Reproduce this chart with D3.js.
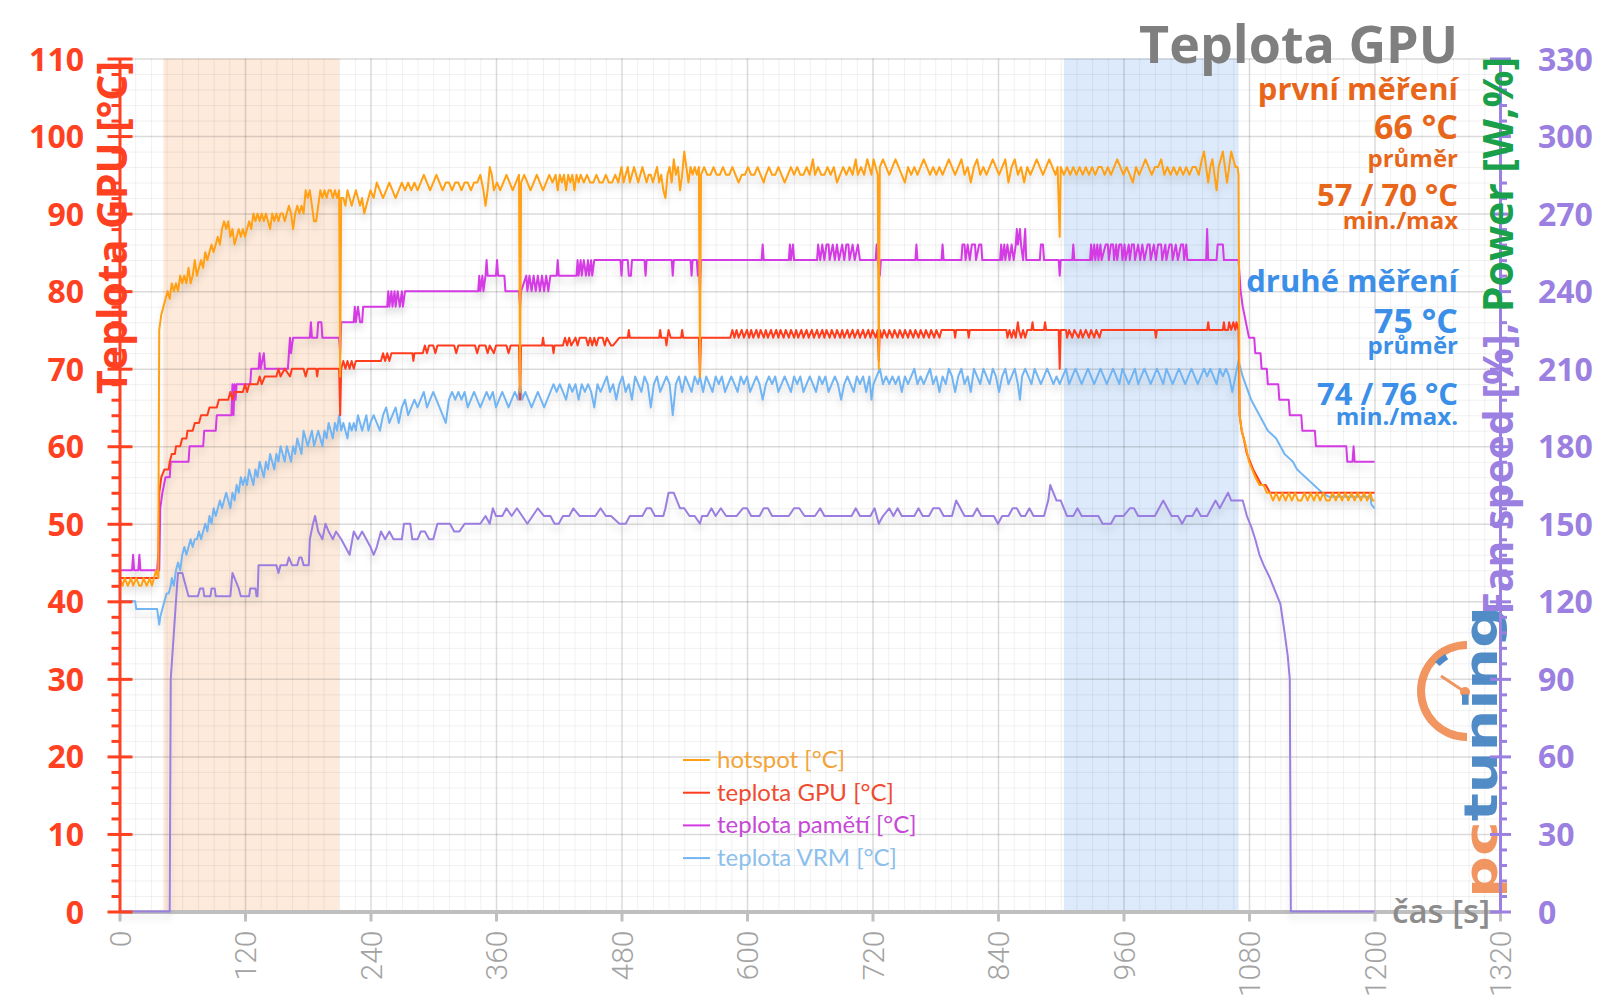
<!DOCTYPE html>
<html><head><meta charset="utf-8">
<script src="https://cdn.jsdelivr.net/npm/d3@7"></script>
<style>
html,body{margin:0;padding:0;background:#fff;}
svg{display:block;}
text{font-family:"Open Sans","DejaVu Sans",sans-serif;}
</style></head>
<body>
<svg id="chart" width="1600" height="1008"></svg>
<script>
// ---------- data (time [s], value) ----------
const xTicks = [0,120,240,360,480,600,720,840,960,1080,1200,1320];
const yLeftTicks = [0,10,20,30,40,50,60,70,80,90,100,110];
const yRightTicks = [0,30,60,90,120,150,180,210,240,270,300,330];
const bands = [[42,210],[903,1070]];

const hotspot = [
[0,43],[3,42],[5,43],[8,42],[11,43],[13,42],[16,43],[19,42],[21,42],[23,43],[26,42],[29,43],[31,42],[33,43],[35,44],[37,43],
[38,75],[40,77],[42,78],[44,79],[46,80],[48,79],[50,81],[52,80],[54,81],[56,80],[58,82],[60,81],[62,82],[64,81],[66,83],[68,81],[70,82],[72,84],[74,82],[76,83],[78,84],[80,83],[82,85],[84,84],[86,85],[88,86],[90,85],[92,86],[94,87],[96,86],[98,88],[100,89],[102,88],[104,89],[106,87],[108,88],[110,86],[112,87],[114,88],[116,87],[118,88],[120,87],[122,88],[124,89],[126,88],[128,90],[130,89],[132,90],[134,89],[136,90],[138,89],[140,90],[142,89],[144,88],[146,90],[148,89],[150,90],[152,89],[154,90],[156,90],[158,89],[160,90],[162,91],[164,90],[166,88],[168,90],[170,91],[172,90],[174,91],[176,90],[178,93],[180,92],[182,93],[184,91],[186,89],[188,89],[190,91],[192,93],[194,92],[196,93],[198,92],[200,93],[202,93],[204,92],[206,93],[208,92],[210,93],
[211,69],[212,92],[214,92],[216,91],[218,93],[220,92],[222,91],[224,92],[226,93],[228,92],[230,91],[232,92],[234,90],[236,91],[238,92],[240,93],[243,92],[246,94],[249,93],[252,92],[255,93],[258,94],[261,93],[264,92],[267,93],[270,94],[273,93],[276,94],[279,93],[282,94],[285,93],[288,94],[291,95],[294,94],[297,93],[300,94],[303,95],[306,94],[309,93],[312,94],[315,94],[318,93],[321,94],[324,94],[327,93],[330,94],[333,94],[336,93],[339,94],[342,94],[345,95],[348,93],[350,91],[352,93],[354,96],[356,95],[358,93],[361,94],[364,93],[367,94],[370,95],[373,94],[376,93],[379,94],[382,95],
[383,67],[384,94],[387,95],[390,94],[393,93],[396,94],[399,95],[402,94],[405,93],[408,94],[411,95],[414,94],[417,95],[419,93],[421,95],[423,94],[425,95],[427,93],[429,95],[431,94],[433,95],[435,93],[437,95],[439,94],[441,95],[444,94],[447,95],[450,94],[453,94],[456,95],[459,94],[462,94],[465,95],[468,94],[471,94],[474,95],[477,94],[480,96],[482,94],[484,95],[486,96],[488,94],[490,95],[492,96],[494,95],[496,94],[498,95],[500,96],[502,95],[504,94],[506,95],[508,95],[510,94],[512,95],[514,96],[516,94],[518,95],[520,93],[522,92],[524,95],[526,96],[528,94],[530,97],[532,95],[534,96],[536,93],[538,95],[540,98],[542,96],[544,94],[546,96],[548,95],[550,96],[552,95],[554,96],
[555,69],[556,95],[559,96],[562,95],[565,95],[568,96],[571,95],[574,95],[577,96],[580,95],[583,95],[586,96],[589,95],[592,94],[595,95],[598,95],[601,96],[604,95],[607,95],[610,96],[613,95],[616,94],[618,95],[621,96],[624,95],[627,95],[630,96],[633,95],[636,94],[639,95],[642,96],[645,95],[648,96],[651,95],[654,95],[657,96],[660,95],[663,97],[665,95],[668,96],[671,95],[674,95],[677,96],[680,95],[683,96],[686,94],[689,95],[692,96],[695,95],[698,96],[701,95],[704,97],[706,95],[709,96],[712,95],[715,97],[717,96],[719,95],[721,97],[723,96],[725,95],
[726,70],[727,96],[730,97],[733,96],[736,95],[739,96],[742,97],[745,96],[748,95],[751,94],[754,96],[757,95],[760,96],[763,95],[766,96],[769,97],[772,96],[775,95],[778,96],[781,95],[784,96],[787,95],[790,96],[793,97],[796,96],[799,95],[802,96],[805,97],[808,95],[811,96],[814,94],[817,96],[820,97],[823,95],[826,96],[829,95],[832,96],[835,97],[838,96],[841,95],[844,96],[847,97],[850,94],[853,96],[856,97],[859,95],[862,96],[865,94],[868,96],[871,95],[874,96],[877,97],[880,96],[883,95],[886,96],[889,97],[892,96],[895,95],[897,96],
[899,87],[900,96],[903,95],[906,96],[909,95],[912,96],[915,95],[918,96],[921,95],[924,96],[927,95],[930,96],[933,95],[936,96],[939,96],[942,95],[945,96],[948,95],[951,96],[954,97],[957,96],[960,95],[963,96],[966,95],[969,94],[972,96],[975,95],[978,96],[981,97],[984,96],[987,95],[990,96],[993,96],[996,97],[999,95],[1002,96],[1005,95],[1008,96],[1011,95],[1014,96],[1017,95],[1020,96],[1023,95],[1026,96],[1029,96],[1032,95],[1035,97],[1037,98],[1039,96],[1041,94],[1043,96],[1045,97],[1047,95],[1049,93],[1051,96],[1053,97],[1055,98],[1057,96],[1059,94],[1061,96],[1063,98],[1065,97],[1067,96],[1069,96],[1070,95],
[1071,64],[1073,62],[1075,61],[1077,60],[1080,58],[1083,57],[1086,56],[1090,55],[1094,55],[1097,54],[1100,54],[1103,53],[1106,54],[1109,53],[1112,54],[1115,53],[1118,54],[1121,53],[1124,54],[1127,53],[1130,53],[1133,54],[1136,53],[1139,54],[1142,53],[1145,54],[1148,53],[1151,54],[1154,53],[1157,53],[1160,54],[1163,53],[1166,54],[1169,53],[1172,54],[1175,53],[1178,54],[1181,53],[1184,54],[1187,53],[1190,54],[1193,53],[1196,54],[1198,53],[1200,53]
];

const gpuTemp = [
[0,43],[37,43],[38,54],[40,56],[43,57],[47,57],[48,58],[50,59],[53,59],[54,60],[58,60],[60,61],[64,61],[65,62],[70,62],[72,63],[76,63],[78,64],[84,64],[86,65],[93,65],[95,66],[104,66],[106,67],[108,66],[110,67],[118,67],[120,68],[122,67],[124,68],[132,68],[134,69],[136,68],[139,69],[150,69],[152,70],[154,69],[158,70],[163,69],[165,70],[176,70],[178,69],[180,70],[188,70],[189,69],[190,70],[210,70],
[211,64],[212,70],[214,71],[216,70],[218,71],[220,70],[222,71],[224,70],[226,71],[250,71],[252,72],[254,71],[256,72],[258,71],[260,72],[280,72],[281,71],[282,72],[290,72],[292,73],[294,72],[296,73],[300,73],[302,72],[304,73],[320,73],[322,72],[324,73],[340,73],[342,72],[344,73],[350,73],[352,72],[354,73],[358,72],[360,73],[370,73],[372,72],[374,73],[382,73],
[383,66],[384,73],[404,73],[405,74],[406,73],[414,73],[415,72],[416,73],[424,73],[426,74],[428,73],[430,74],[432,73],[436,74],[438,73],[440,74],[446,74],[448,73],[450,74],[452,73],[454,74],[456,73],[458,74],[462,74],[464,73],[466,74],[470,73],[472,73],[478,74],[486,74],[487,75],[488,74],[516,74],[517,75],[518,74],[522,74],[523,73],[525,75],[527,74],[537,74],[538,75],[539,74],[554,74],
[555,69],[556,74],[584,74],[586,75],[588,74],[590,75],[592,74],[595,75],[597,74],[600,75],[602,74],[604,75],[606,74],[609,75],[611,74],[613,75],[616,74],[618,75],[620,74],[623,75],[625,74],[628,75],[630,74],[632,75],[635,74],[637,75],[640,74],[642,75],[645,74],[647,75],[649,74],[652,75],[654,74],[657,75],[659,74],[662,75],[664,74],[667,75],[669,74],[672,75],[674,74],[676,75],[679,74],[681,75],[684,74],[686,75],[689,74],[691,75],[693,74],[696,75],[698,74],[701,75],[703,74],[706,75],[708,74],[711,75],[713,74],[716,75],[718,74],[720,75],[723,74],[725,75],
[726,71],[727,75],[729,74],[731,75],[734,74],[736,75],[739,74],[741,75],[744,74],[746,75],[749,74],[751,75],[754,74],[756,75],[759,74],[761,75],[764,74],[766,75],[769,74],[771,75],[774,74],[776,75],[779,74],[781,75],[784,74],[786,75],[798,75],[799,74],[800,75],[811,75],[812,74],[813,75],[848,75],[849,74],[851,75],[853,74],[855,75],[857,74],[859,76],[860,75],[862,74],[864,75],[866,74],[868,75],[872,75],[873,76],[874,75],[884,75],[885,76],[886,75],[898,75],
[899,70],[900,75],[905,75],[906,74],[908,75],[911,74],[913,75],[917,74],[919,75],[921,74],[924,75],[927,74],[929,75],[932,74],[934,75],[937,74],[939,75],[990,75],[991,74],[992,75],[1040,75],[1041,76],[1042,75],[1055,75],[1056,76],[1057,75],[1060,75],[1061,76],[1063,75],[1065,76],[1067,75],[1068,76],[1070,75],
[1071,64],[1073,62],[1075,61],[1078,59],[1081,58],[1084,57],[1088,56],[1092,55],[1096,55],[1100,54],[1200,54]
];

const memTemp = [
[0,44],[12,44],[13,46],[14,44],[18,44],[19,46],[20,44],[36,44],[37,46],[38,44],[39,52],[41,54],[44,56],[48,56],[49,58],[66,58],[67,60],[80,60],[81,62],[92,62],[93,64],[107,64],[108,68],[109,64],[110,68],[111,66],[112,68],[125,68],[126,70],[133,70],[134,72],[135,70],[138,72],[139,70],[161,70],[162,72],[163,74],[164,72],[166,74],[182,74],[183,76],[184,74],[189,74],[190,76],[193,76],[194,74],[210,74],
[211,72],[212,76],[224,76],[225,78],[226,76],[228,78],[230,76],[232,76],[233,78],[256,78],[257,80],[258,78],[260,80],[261,78],[263,80],[264,78],[266,80],[268,78],[270,80],[271,78],[273,80],[343,80],[344,82],[345,80],[347,82],[348,80],[350,82],[351,84],[352,82],[360,82],[361,84],[362,82],[368,82],[369,80],[382,80],
[383,78],[384,80],[389,82],[390,80],[392,82],[394,80],[396,82],[398,80],[400,82],[402,80],[404,82],[406,80],[408,82],[410,80],[412,82],[418,82],[419,84],[420,82],[437,82],[438,84],[439,82],[441,84],[442,82],[444,84],[446,82],[448,84],[449,82],[451,84],[452,82],[454,84],[479,84],[480,82],[481,84],[486,84],[487,82],[489,82],[490,84],[502,84],[503,82],[504,84],[528,84],[529,82],[530,84],[546,84],[547,82],[548,84],[552,84],[553,82],[554,84],
[555,80],[556,84],[614,84],[615,86],[616,84],[640,84],[641,86],[642,84],[644,86],[645,84],[667,84],[668,86],[670,84],[672,86],[674,84],[676,86],[678,86],[679,84],[682,86],[684,84],[686,86],[688,84],[691,86],[693,84],[695,86],[697,86],[698,84],[701,86],[703,84],[706,86],[708,84],[723,84],[724,86],[725,84],
[727,82],[728,84],[761,84],[762,86],[763,84],[786,84],[787,86],[788,84],[805,84],[806,86],[808,86],[809,84],[811,86],[813,84],[815,86],[818,86],[819,84],[822,86],[824,86],[825,84],[842,84],[843,86],[844,84],[846,86],[847,84],[849,86],[851,84],[853,86],[855,84],[857,86],[858,88],[859,86],[861,88],[862,86],[864,84],[866,88],[867,84],[880,84],[881,86],[883,86],[884,84],[898,84],
[899,82],[900,84],[911,84],[912,86],[913,84],[928,84],[929,86],[930,84],[932,86],[933,84],[935,86],[936,84],[938,86],[939,84],[943,86],[945,86],[946,84],[948,86],[950,86],[951,84],[953,86],[954,84],[956,86],[958,86],[959,84],[961,86],[962,84],[965,86],[966,84],[968,86],[970,86],[971,84],[974,86],[976,84],[978,86],[980,84],[983,86],[985,86],[986,84],[989,86],[991,84],[993,86],[996,86],[997,84],[1000,86],[1001,84],[1004,86],[1006,86],[1007,84],[1010,86],[1012,84],[1015,86],[1017,86],[1018,84],[1020,86],[1021,84],[1039,84],[1040,88],[1041,84],[1049,84],[1050,86],[1055,86],[1056,84],[1070,84],
[1071,82],[1072,80],[1074,78],[1077,76],[1080,74],[1085,74],[1086,72],[1091,72],[1092,70],[1097,70],[1098,68],[1108,68],[1109,66],[1118,66],[1119,64],[1130,64],[1131,62],[1143,62],[1144,60],[1173,60],[1174,58],[1179,58],[1180,60],[1181,58],[1200,58]
];

const vrmTemp = [
[0,40],[15,40],[16,39],[36,39],[37,38],[38,37],[39,38],[41,39],[43,40],[45,41],[47,41],[49,42],[50,43],[52,42],[54,44],[56,45],[58,44],[60,46],[62,47],[64,46],[66,47],[68,48],[70,47],[72,48],[74,48],[76,49],[78,48],[80,49],[82,50],[84,49],[86,51],[88,50],[90,52],[92,51],[94,52],[96,53],[98,52],[100,53],[102,54],[104,53],[106,52],[108,54],[110,53],[112,55],[114,54],[116,56],[118,55],[120,56],[122,55],[124,57],[126,56],[128,55],[130,57],[132,56],[134,58],[136,57],[138,56],[140,58],[142,57],[144,59],[146,58],[148,57],[150,59],[152,58],[154,60],[156,59],[158,58],[160,60],[162,59],[164,58],[166,60],[168,59],[170,61],[172,60],[174,59],[176,62],[178,61],[180,60],[182,61],[184,62],[186,60],[188,61],[190,62],[192,61],[194,60],[196,62],[198,61],[200,63],[202,62],[204,61],[206,63],[208,62],[210,64],[212,62],[214,63],[216,62],[218,61],[220,63],[222,62],[224,63],[226,62],[228,64],[230,63],[232,62],[234,63],[236,64],[238,62],[240,63],[243,64],[246,63],[249,62],[252,64],[255,65],[258,63],[261,64],[264,65],[267,63],[270,65],[273,66],[276,64],[279,65],[282,66],[285,65],[288,66],[291,67],[294,65],[297,66],[300,67],[303,66],[306,65],[309,64],[312,63],[315,66],[318,67],[321,66],[324,67],[327,66],[330,67],[333,65],[336,66],[339,67],[342,66],[345,65],[348,66],[351,67],[354,66],[357,67],[360,65],[363,66],[366,67],[369,66],[372,65],[375,66],[378,67],[381,66],[383,68],[385,66],[388,67],[391,66],[394,65],[397,66],[400,67],[403,66],[406,65],[409,66],[412,67],[415,68],[418,67],[421,68],[424,67],[427,66],[430,68],[433,67],[436,68],[439,66],[442,68],[445,67],[448,68],[451,67],[454,65],[457,68],[460,67],[463,68],[466,69],[469,67],[472,68],[475,66],[478,68],[481,69],[484,67],[487,68],[490,66],[493,69],[496,68],[499,67],[502,69],[505,68],[508,65],[511,68],[514,69],[517,67],[520,68],[523,69],[526,68],[529,64],[532,68],[535,69],[538,67],[541,69],[544,68],[547,67],[550,69],[553,68],[555,69],[558,67],[561,69],[564,68],[567,67],[570,69],[573,68],[576,69],[579,67],[582,68],[585,69],[588,68],[591,67],[594,69],[597,68],[600,69],[603,67],[606,68],[609,69],[612,68],[615,66],[618,68],[621,69],[624,68],[627,69],[630,67],[633,68],[636,69],[639,68],[642,67],[645,69],[648,68],[651,69],[654,67],[657,68],[660,69],[663,68],[666,67],[669,69],[672,68],[675,69],[678,67],[681,68],[684,69],[687,68],[690,66],[693,68],[696,69],[699,68],[702,67],[705,69],[708,68],[711,69],[714,67],[717,69],[719,66],[721,68],[724,69],[727,70],[730,68],[733,69],[736,68],[739,69],[742,68],[745,69],[748,67],[751,69],[754,68],[757,69],[760,70],[763,68],[766,69],[769,68],[772,69],[775,70],[778,68],[781,69],[784,67],[787,69],[790,68],[793,70],[796,69],[799,67],[802,69],[805,70],[808,68],[811,69],[814,67],[817,70],[820,69],[823,68],[826,70],[829,69],[832,68],[835,70],[838,69],[841,67],[844,69],[847,70],[850,68],[853,69],[856,70],[859,68],[861,66],[863,69],[866,70],[869,69],[872,68],[875,70],[878,69],[881,68],[884,69],[887,70],[890,69],[893,68],[896,69],[899,68],[902,69],[905,70],[908,68],[911,69],[914,70],[917,69],[920,68],[923,69],[926,70],[929,69],[932,68],[935,69],[938,70],[941,69],[944,68],[947,69],[950,70],[953,69],[956,68],[959,70],[962,69],[965,68],[968,69],[971,70],[974,68],[977,69],[980,70],[983,69],[986,68],[989,69],[992,70],[995,69],[998,68],[1001,70],[1004,69],[1007,68],[1010,69],[1013,70],[1016,69],[1019,68],[1022,69],[1025,70],[1028,69],[1031,68],[1034,69],[1037,70],[1040,69],[1043,70],[1046,69],[1049,68],[1052,70],[1055,69],[1058,70],[1061,69],[1064,67],[1067,69],[1070,71],
[1074,69],[1078,67.5],[1082,66],[1086,65],[1090,64],[1094,63],[1098,62],[1102,61.5],[1106,61],[1110,60],[1114,59],[1118,58.5],[1122,58],[1126,57],[1130,56.5],[1134,56],[1138,55.5],[1142,55],[1146,54.5],[1150,54],[1156,53.5],[1196,53.5],[1197,52.5],[1200,52]
];

// fan speed, read against the right axis
const fanSpeed = [
[0,0],[48,0],[49,90],[51,102],[53,114],[55,126],[56,131],[60,131],[62,128],[66,122],[75,122],[77,125],[80,125],[81,122],[87,122],[88,125],[91,125],[92,122],[106,122],[108,131],[111,128],[114,125],[116,122],[124,122],[125,125],[130,125],[131,122],[132,122],[133,134],[150,134],[152,131],[154,134],[160,134],[162,137],[165,134],[170,134],[172,137],[174,137],[176,134],[181,134],[182,144],[185,150],[187,153],[190,147],[194,144],[197,150],[200,147],[204,144],[207,147],[212,144],[216,141],[220,138],[224,147],[228,144],[232,147],[236,144],[240,141],[243,138],[246,141],[250,147],[254,144],[258,147],[262,144],[270,144],[272,150],[278,150],[280,144],[285,144],[288,147],[292,147],[296,144],[300,144],[304,150],[316,150],[320,147],[325,147],[330,150],[345,150],[350,153],[354,150],[357,156],[360,153],[366,153],[370,156],[375,153],[380,156],[385,153],[390,150],[395,153],[400,156],[406,153],[412,153],[416,150],[420,150],[424,153],[430,153],[434,156],[440,153],[455,153],[460,156],[465,153],[470,153],[478,150],[484,150],[488,153],[500,153],[504,156],[508,156],[512,153],[520,153],[522,156],[525,162],[530,162],[533,159],[536,156],[540,156],[545,153],[550,153],[555,150],[557,153],[562,153],[566,156],[570,153],[575,156],[580,153],[590,153],[596,156],[600,156],[604,153],[612,153],[616,156],[620,156],[624,153],[640,153],[645,156],[650,156],[655,153],[665,153],[670,156],[674,153],[700,153],[704,156],[708,153],[718,153],[722,156],[726,150],[730,153],[736,156],[740,153],[744,156],[748,153],[760,153],[764,156],[768,153],[774,153],[778,156],[784,156],[788,153],[796,153],[800,159],[804,156],[808,153],[816,153],[820,156],[824,153],[836,153],[840,150],[844,153],[850,153],[854,156],[858,156],[862,153],[866,153],[870,156],[874,153],[884,153],[888,159],[890,165],[893,162],[896,159],[900,159],[903,156],[906,153],[912,153],[916,156],[920,153],[936,153],[940,150],[948,150],[952,153],[960,153],[966,156],[970,156],[974,153],[990,153],[994,156],[998,159],[1002,156],[1006,153],[1012,153],[1016,150],[1020,153],[1026,153],[1030,156],[1034,153],[1040,153],[1044,156],[1048,159],[1052,156],[1056,159],[1060,162],[1063,159],[1070,159],[1074,159],[1078,153],[1082,149],[1086,144],[1090,138],[1094,134],[1100,129],[1106,123],[1110,119],[1114,108],[1117,99],[1119,90],[1120,0],[1200,0]
];

const legendLabels = ["hotspot [°C]","teplota GPU [°C]","teplota pamětí [°C]","teplota VRM [°C]"];
const firstRun = ["první měření","66 °C","průměr","57 / 70 °C","min./max"];
const secondRun = ["druhé měření","75 °C","průměr","74 / 76 °C","min./max."];

// ---------- layout ----------
const svg = d3.select("#chart");
const X0 = 119.5, X1 = 1500, Y0 = 911.5, Y1 = 58.5;
const x = d3.scaleLinear().domain([0,1320]).range([X0,X1]);
const yL = d3.scaleLinear().domain([0,110]).range([Y0,Y1]);
const yR = d3.scaleLinear().domain([0,330]).range([Y0,Y1]);

const C = {hot:"#ffa012", gpu:"#ff3c1e", mem:"#d43ae4", vrm:"#72b5f2", fan:"#9a7fe0",
           left:"#ff4122", right:"#9b80e2", green:"#1a9f4b", orange:"#e8661a", blue:"#3b8fe8"};

const defs = svg.append("defs");
const flt = defs.append("filter").attr("id","sh").attr("x","-2%").attr("y","-10%").attr("width","104%").attr("height","140%");
flt.append("feDropShadow").attr("dx",0).attr("dy",6).attr("stdDeviation",3.5).attr("flood-color","#000").attr("flood-opacity",0.13);

// bands
svg.append("g").selectAll("rect").data(bands).join("rect")
  .attr("x",d=>x(d[0])).attr("width",d=>x(d[1])-x(d[0]))
  .attr("y",Y1).attr("height",Y0-Y1)
  .attr("fill",(d,i)=>i===0?"#fdeadb":"#dceafb");

// grid
const minorX = d3.range(0,1321,15).filter(v=>v%120!==0);
const minorY = d3.range(0,111,2).filter(v=>v%10!==0);
const grid = svg.append("g");
grid.append("g").attr("transform",`translate(0,${Y0})`)
  .call(d3.axisBottom(x).tickValues(minorX).tickSize(-(Y0-Y1)).tickFormat(""))
  .call(g=>g.select(".domain").remove())
  .call(g=>g.selectAll("line").attr("stroke","rgba(0,0,0,0.06)").attr("stroke-width",1));
grid.append("g").attr("transform",`translate(${X0},0)`)
  .call(d3.axisLeft(yL).tickValues(minorY).tickSize(-(X1-X0)).tickFormat(""))
  .call(g=>g.select(".domain").remove())
  .call(g=>g.selectAll("line").attr("stroke","rgba(0,0,0,0.06)").attr("stroke-width",1));
grid.append("g").attr("transform",`translate(0,${Y0})`)
  .call(d3.axisBottom(x).tickValues(xTicks).tickSize(-(Y0-Y1)).tickFormat(""))
  .call(g=>g.select(".domain").remove())
  .call(g=>g.selectAll("line").attr("stroke","rgba(0,0,0,0.14)").attr("stroke-width",1.5));
grid.append("g").attr("transform",`translate(${X0},0)`)
  .call(d3.axisLeft(yL).tickValues(yLeftTicks).tickSize(-(X1-X0)).tickFormat(""))
  .call(g=>g.select(".domain").remove())
  .call(g=>g.selectAll("line").attr("stroke","rgba(0,0,0,0.14)").attr("stroke-width",1.5));

// logo (background watermark)
const logo = svg.append("g").attr("opacity",0.9);
const arcG = d3.arc();
logo.append("path").attr("transform","translate(1467,691)")
  .attr("d",arcG({innerRadius:42,outerRadius:50,startAngle:Math.PI,endAngle:2*Math.PI}))
  .attr("fill","#f08a50");
logo.append("path").attr("transform","translate(1467,691)")
  .attr("d",arcG({innerRadius:37,outerRadius:43,startAngle:5.45,endAngle:5.75}))
  .attr("fill","#3b7dc4");
logo.append("line").attr("x1",1441).attr("y1",676).attr("x2",1465).attr("y2",692)
  .attr("stroke","#f08a50").attr("stroke-width",3);
logo.append("circle").attr("cx",1465).attr("cy",692).attr("r",5).attr("fill","#f08a50");
const lt = logo.append("text").attr("transform","translate(1497,898) rotate(-90)")
  .attr("font-size",46).attr("font-weight",700).style("font-family","'DejaVu Sans',sans-serif")
  .attr("textLength",292).attr("lengthAdjust","spacingAndGlyphs");
lt.append("tspan").attr("fill","#f08a50").text("pc");
lt.append("tspan").attr("fill","#3f80c2").text("tuning");

// x axis
const xAxis = svg.append("g").attr("transform",`translate(0,${Y0})`)
  .call(d3.axisBottom(x).tickValues(xTicks).tickSize(10).tickSizeOuter(0).tickFormat(d3.format("d")));
xAxis.select(".domain").attr("stroke","#bfbfbf").attr("stroke-width",4);
xAxis.selectAll(".tick line").attr("stroke","#bfbfbf").attr("stroke-width",3);
xAxis.selectAll(".tick text")
  .attr("transform","rotate(-90)").attr("x",-19).attr("y",0).attr("dy","0.36em")
  .attr("text-anchor","end").attr("fill","#a3a3a3").attr("font-size",30)
  .attr("font-weight",300).style("font-family","Roboto,'Open Sans',sans-serif");
svg.append("text").attr("x",1490).attr("y",923).attr("text-anchor","end")
  .attr("font-size",33).attr("font-weight",600).attr("fill","#8c8c8c").text("čas [s]");

// series
const line = (scale)=>d3.line().x(d=>x(d[0])).y(d=>scale(d[1]));
const series = [
  {data:fanSpeed, scale:yR, color:C.fan},
  {data:vrmTemp, scale:yL, color:C.vrm},
  {data:memTemp, scale:yL, color:C.mem},
  {data:gpuTemp, scale:yL, color:C.gpu},
  {data:hotspot, scale:yL, color:C.hot}
];
const lg = svg.append("g").attr("filter","url(#sh)");
series.forEach(s=>{
  lg.append("path").datum(s.data).attr("d",line(s.scale))
    .attr("fill","none").attr("stroke",s.color).attr("stroke-width",2)
    .attr("stroke-linejoin","round");
});

// left axis
const la = svg.append("g").attr("transform",`translate(${X0},0)`);
la.append("g").call(d3.axisLeft(yL).tickValues(minorY).tickSize(8).tickFormat("").tickSizeOuter(0))
  .call(g=>g.select(".domain").remove())
  .call(g=>g.selectAll("line").attr("stroke",C.left).attr("stroke-width",3));
const laM = la.append("g").call(d3.axisLeft(yL).tickValues(yLeftTicks).tickSize(12).tickSizeOuter(0));
laM.select(".domain").attr("stroke",C.left).attr("stroke-width",3);
laM.selectAll(".tick line").attr("x1",13).attr("x2",-12).attr("stroke",C.left).attr("stroke-width",3);
laM.selectAll(".tick text").attr("x",-35.5).attr("dy","0.36em").attr("fill",C.left)
  .attr("font-size",32).attr("font-weight",700).style("font-family","'Open Sans',sans-serif");

// right axis
const ra = svg.append("g").attr("transform",`translate(${X1},0)`);
ra.append("g").call(d3.axisRight(yR).tickValues(d3.range(0,331,6).filter(v=>v%30!==0)).tickSize(7).tickFormat("").tickSizeOuter(0))
  .call(g=>g.select(".domain").remove())
  .call(g=>g.selectAll("line").attr("stroke",C.right).attr("stroke-width",3));
const raM = ra.append("g").call(d3.axisRight(yR).tickValues(yRightTicks).tickSize(10).tickSizeOuter(0));
raM.select(".domain").attr("stroke",C.right).attr("stroke-width",3);
raM.selectAll(".tick line").attr("x1",-10).attr("x2",11).attr("stroke",C.right).attr("stroke-width",3);
raM.selectAll(".tick text").attr("x",38).attr("dy","0.36em").attr("fill",C.right)
  .attr("font-size",32).attr("font-weight",700).style("font-family","'Open Sans',sans-serif");

// axis titles
svg.append("text").attr("transform","translate(127,61) rotate(-90)").attr("text-anchor","end")
  .attr("font-size",41).attr("font-weight",700).attr("fill",C.left).text("Teplota GPU [°C]");
const rt = svg.append("text").attr("transform","translate(1513,57) rotate(-90)").attr("text-anchor","end")
  .attr("font-size",41).attr("font-weight",700);
rt.append("tspan").attr("fill",C.right).text("Fan speed [%], ");
rt.append("tspan").attr("fill",C.green).text("Power [W,%]");

// title
svg.append("text").attr("x",1458).attr("y",63).attr("text-anchor","end")
  .attr("font-size",52).attr("font-weight",700).attr("fill","#7f7f7f").text("Teplota GPU");

// annotations
const annoY1 = [100,139,167,206,229], annoY2 = [292,333,354,405,425];
const annoSize = [31,34,24,31,24];
const ann = svg.append("g").attr("text-anchor","end").attr("font-weight",700);
ann.selectAll("text.a1").data(firstRun).join("text").attr("class","a1")
  .attr("x",1458).attr("y",(d,i)=>annoY1[i]).attr("font-size",(d,i)=>annoSize[i])
  .attr("fill",C.orange).text(d=>d);
ann.selectAll("text.a2").data(secondRun).join("text").attr("class","a2")
  .attr("x",1458).attr("y",(d,i)=>annoY2[i]).attr("font-size",(d,i)=>annoSize[i])
  .attr("fill",C.blue).text(d=>d);

// legend
const legColors = [C.hot,C.gpu,C.mem,C.vrm];
const legText = ["#f2a53a","#ef4b2f","#c649d6","#8dbfec"];
const leg = svg.append("g").attr("transform","translate(683,760)");
const li = leg.selectAll("g").data(legendLabels).join("g").attr("transform",(d,i)=>`translate(0,${i*32.7})`);
li.append("line").attr("x1",0).attr("x2",27).attr("y1",0).attr("y2",0)
  .attr("stroke",(d,i)=>legColors[i]).attr("stroke-width",2);
li.append("text").attr("x",34).attr("y",8).attr("font-size",24)
  .style("font-family","Lato,'Open Sans',sans-serif")
  .attr("fill",(d,i)=>legText[i]).text(d=>d);
</script>
</body></html>
